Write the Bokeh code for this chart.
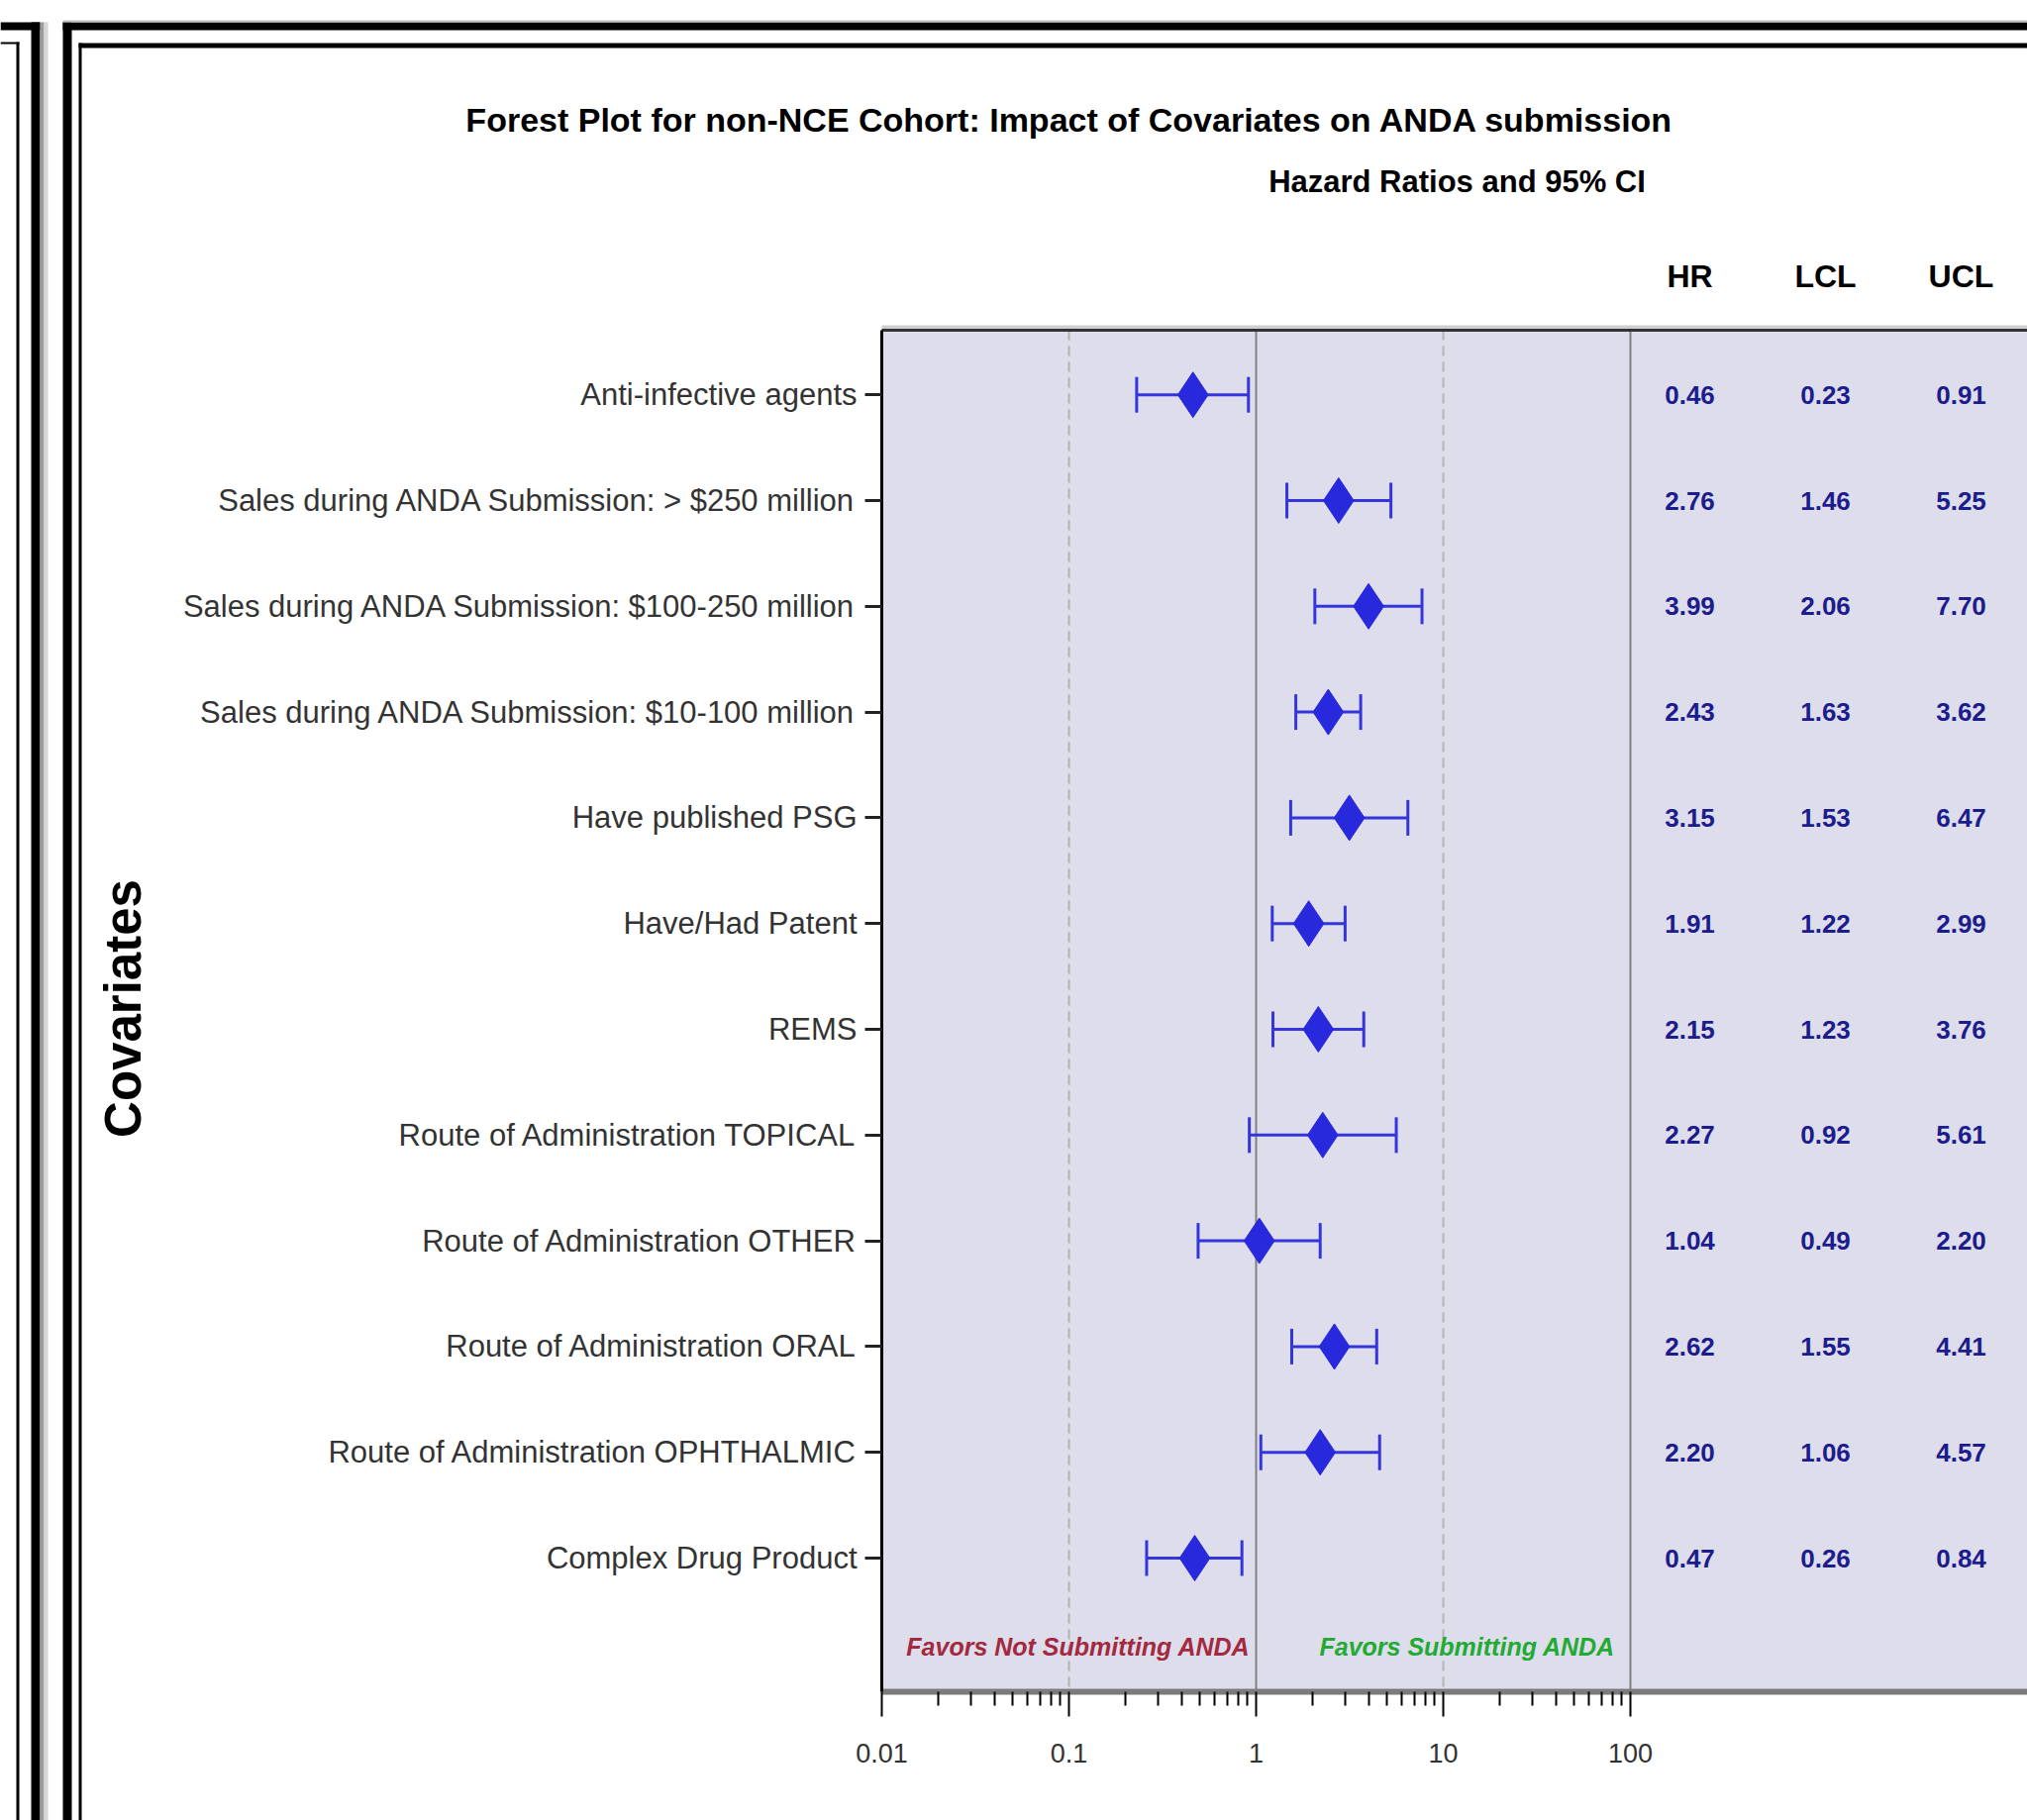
import math
from bokeh.plotting import figure
from bokeh.models import (ColumnDataSource, Range1d, FixedTicker, Whisker, TeeHead,
                          LinearScale, CustomJSTickFormatter)
from bokeh.core.properties import value
from bokeh.embed import file_html
from bokeh.resources import INLINE

# ---------------- data ----------------
covariates = [
    "Anti-infective agents",
    "Sales during ANDA Submission: > $250 million",
    "Sales during ANDA Submission: $100-250 million",
    "Sales during ANDA Submission: $10-100 million",
    "Have published PSG",
    "Have/Had Patent",
    "REMS",
    "Route of Administration TOPICAL",
    "Route of Administration OTHER",
    "Route of Administration ORAL",
    "Route of Administration OPHTHALMIC",
    "Complex Drug Product",
]
hr = [0.46, 2.76, 3.99, 2.43, 3.15, 1.91, 2.15, 2.27, 1.04, 2.62, 2.20, 0.47]
lcl = [0.23, 1.46, 2.06, 1.63, 1.53, 1.22, 1.23, 0.92, 0.49, 1.55, 1.06, 0.26]
ucl = [0.91, 5.25, 7.70, 3.62, 6.47, 2.99, 3.76, 5.61, 2.20, 4.41, 4.57, 0.84]
hr_text = ["0.46", "2.76", "3.99", "2.43", "3.15", "1.91", "2.15", "2.27", "1.04", "2.62", "2.20", "0.47"]
lcl_text = ["0.23", "1.46", "2.06", "1.63", "1.53", "1.22", "1.23", "0.92", "0.49", "1.55", "1.06", "0.26"]
ucl_text = ["0.91", "5.25", "7.70", "3.62", "6.47", "2.99", "3.76", "5.61", "2.20", "4.41", "4.57", "0.84"]
table_headers = ["HR", "LCL", "UCL"]
x_ticks = [0.01, 0.1, 1, 10, 100]
x_tick_labels = ["0.01", "0.1", "1", "10", "100"]
ref_solid = [1, 100]
ref_dashed = [0.1, 10]
favors_labels = ["Favors Not Submitting ANDA", "Favors Submitting ANDA"]
title_text = "Forest Plot for non-NCE Cohort: Impact of Covariates on ANDA submission"
subtitle_text = "Hazard Ratios and 95% CI"
ylabel_text = "Covariates"

# ---------------- layout constants (canvas pixels) ----------------
W, H = 2047, 1838
PX_X0 = 890.0          # pixel of x = 0.01
DECADE = 189.0         # pixels per decade
ROW1_PY = 398.2        # pixel of first row
ROW_H = 106.8          # pixels per row
PANEL_TOP, PANEL_BOT = 333.0, 1708.0

def row_of(py):
    return 1 + (py - ROW1_PY) / ROW_H

x_start = 10 ** (-2 - PX_X0 / DECADE)
x_end = 10 ** (-2 + (W - PX_X0) / DECADE)
y_top = row_of(PANEL_TOP)
y_bot = row_of(PANEL_BOT)

FONT = "Liberation Sans"
rows = list(range(1, len(covariates) + 1))

p = figure(width=W, height=H, x_axis_type="log",
           x_range=Range1d(x_start, x_end), y_range=Range1d(row_of(H), row_of(0)),
           output_backend="svg", toolbar_location=None,
           min_border=0, min_border_left=0, min_border_right=0,
           min_border_top=0, min_border_bottom=0)
p.background_fill_color = "white"
p.border_fill_color = "white"
p.outline_line_color = None
p.xgrid.visible = False
p.ygrid.visible = False

# pixel-space ranges for page decoration and headings, table column range
p.extra_x_ranges = {"px": Range1d(0, W), "tbl": Range1d(1 - 1706.0 / 137.0, 1 + (W - 1706.0) / 137.0)}
p.extra_x_scales = {"px": LinearScale(), "tbl": LinearScale()}
p.extra_y_ranges = {"py": Range1d(H, 0)}
p.extra_y_scales = {"py": LinearScale()}

# ---- shaded panel (lowest level) ----
p.quad(left=[0.01], right=[x_end], top=[y_top], bottom=[y_bot],
       fill_color="#ddddec", line_color=None, level="image")

# ---- page frames (decoration, canvas pixels) ----
fr = dict(
    l=[0, 31, 40, 44, 0, 16, 63, 63, 79, 79],
    r=[40, 40, 44, 48, 19, 19, W, 72, W, 82],
    t=[22, 22, 22, 22, 42, 42, 22, 22, 43, 43],
    b=[30, H, H, H, 44, H, 30, H, 48, H],
    c=["black", "black", "#9a9a9a", "#d6d6d6", "black", "black", "black", "black", "black", "black"],
)
p.quad(left="l", right="r", top="t", bottom="b", fill_color="c", line_color=None,
       source=ColumnDataSource(fr), x_range_name="px", y_range_name="py")
p.quad(left=[63], right=[W], top=[20], bottom=[22], fill_color="#c0c0c0", line_color=None,
       x_range_name="px", y_range_name="py")

# ---- reference lines ----
p.segment(x0=ref_dashed, x1=ref_dashed, y0=[y_top] * 2, y1=[y_bot] * 2,
          line_color="#b4b4b4", line_width=2, line_dash="10 6", level="underlay")
p.segment(x0=ref_solid, x1=ref_solid, y0=[y_top] * 2, y1=[y_bot] * 2,
          line_color="#808080", line_width=2, level="underlay")

# ---- top border of the panel ----
p.segment(x0=[0.01], x1=[x_end], y0=[row_of(PANEL_TOP - 3)], y1=[row_of(PANEL_TOP - 3)],
          line_color="#cfcfcf", line_width=4)
p.segment(x0=[0.01], x1=[x_end], y0=[y_top], y1=[y_top], line_color="#333333", line_width=3)

# ---- x axis (fixed at panel bottom) ----
xa = p.xaxis[0]
xa.fixed_location = y_bot
xa.bounds = (0.01, x_end)
minor = [m * 10 ** e for e in range(-2, 2) for m in range(2, 10)]
xa.ticker = FixedTicker(ticks=x_ticks, minor_ticks=minor)
xa.formatter = CustomJSTickFormatter(args=dict(xt=x_ticks, xl=x_tick_labels), code="""
    const i = xt.findIndex(t => Math.abs(Math.log10(t) - Math.log10(tick)) < 1e-6);
    return i >= 0 ? xl[i] : '';
""")
xa.axis_line_color = "#7b7b7b"
xa.axis_line_width = 6
xa.major_tick_line_color = "black"
xa.major_tick_line_width = 2
xa.major_tick_out = 25
xa.major_tick_in = 0
xa.minor_tick_line_color = "black"
xa.minor_tick_line_width = 2
xa.minor_tick_out = 14
xa.minor_tick_in = 0
xa.major_label_text_font = FONT
xa.major_label_text_font_size = "27px"
xa.major_label_text_color = "#333333"
xa.major_label_standoff = 27

# ---- y axis (fixed at x = 0.01) ----
ya = p.yaxis[0]
ya.fixed_location = 0.01
ya.bounds = (y_top, y_bot)
ya.ticker = FixedTicker(ticks=rows)
ya.major_label_overrides = {r: c for r, c in zip(rows, covariates)}
ya.axis_line_color = "black"
ya.axis_line_width = 3
ya.major_tick_line_color = "#222222"
ya.major_tick_line_width = 3
ya.major_tick_out = 17
ya.major_tick_in = 0
ya.minor_tick_out = 0
ya.minor_tick_in = 0
ya.major_label_standoff = 8
ya.major_label_text_font = FONT
ya.major_label_text_font_size = "31px"
ya.major_label_text_color = "#333333"

# ---- error bars + markers ----
src = ColumnDataSource(dict(y=rows, hr=hr, lcl=lcl, ucl=ucl,
                            hr_t=hr_text, lcl_t=lcl_text, ucl_t=ucl_text,
                            c1=[1] * len(rows), c2=[2] * len(rows), c3=[3] * len(rows)))
bar_col = "#3535dc"
p.add_layout(Whisker(source=src, base="y", lower="lcl", upper="ucl", dimension="width",
                     line_color=bar_col, line_width=3, level="underlay",
                     lower_head=TeeHead(size=36, line_color=bar_col, line_width=3),
                     upper_head=TeeHead(size=36, line_color=bar_col, line_width=3)))
p.scatter("hr", "y", source=src, marker="diamond", size=46,
          fill_color="#2828dc", line_color="#2828dc")

# ---- table values ----
for col, txt in (("c1", "hr_t"), ("c2", "lcl_t"), ("c3", "ucl_t")):
    p.text(x=col, y="y", text=txt, source=src, x_range_name="tbl",
           text_font=value(FONT), text_font_style="bold", text_font_size="26px",
           text_color="#1c1c8c", text_align="center", text_baseline="middle")

# ---- table headers ----
p.text(x=[1, 2, 3], y=[row_of(278)] * 3, text=table_headers, x_range_name="tbl",
       text_font=value(FONT), text_font_style="bold", text_font_size="32px",
       text_color="black", text_align="center", text_baseline="middle")

# ---- favours labels ----
fav = ColumnDataSource(dict(x=[0.93, 2.18], y=[row_of(1662)] * 2, t=favors_labels,
                            align=["right", "left"], col=["#a3293f", "#22aa33"]))
p.text(x="x", y="y", text="t", source=fav, text_align="align", text_color="col",
       text_font=value(FONT), text_font_style="bold italic", text_font_size="25px",
       text_baseline="middle")

# ---- titles and axis label (canvas pixels) ----
p.text(x=[1080], y=[120], text=[title_text], x_range_name="px", y_range_name="py",
       text_font=value(FONT), text_font_style="bold", text_font_size="34px",
       text_color="black", text_align="center", text_baseline="middle")
p.text(x=[1471], y=[183], text=[subtitle_text], x_range_name="px", y_range_name="py",
       text_font=value(FONT), text_font_style="bold", text_font_size="31px",
       text_color="black", text_align="center", text_baseline="middle")
p.text(x=[124], y=[1018], text=[ylabel_text], x_range_name="px", y_range_name="py",
       angle=math.pi / 2, text_font=value(FONT), text_font_style="bold",
       text_font_size="51px", text_color="black", text_align="center", text_baseline="middle")

open("out.html", "w").write(file_html(p, INLINE))
